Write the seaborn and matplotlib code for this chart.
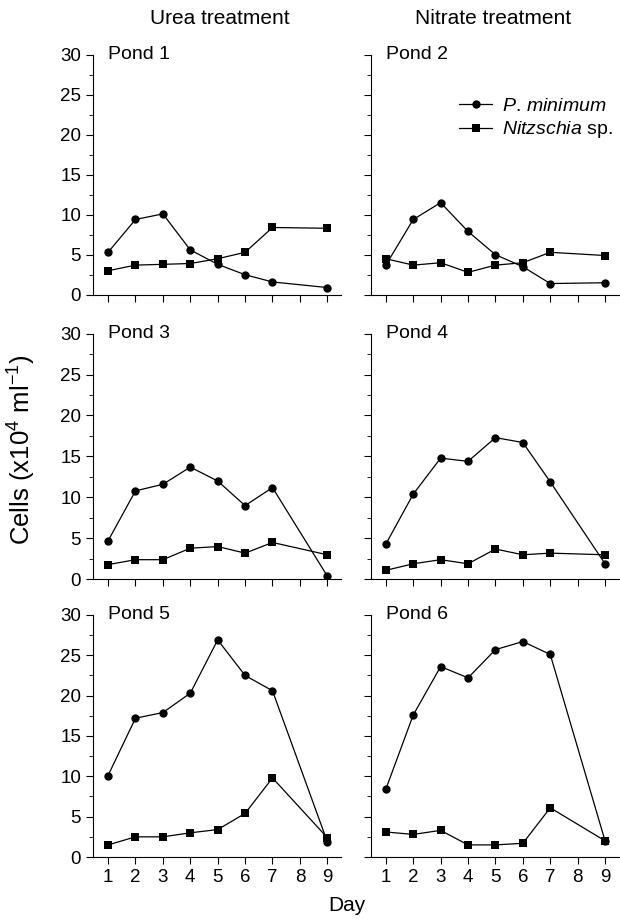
import matplotlib

matplotlib.use("Agg")
import matplotlib.pyplot as plt
import pandas as pd
import seaborn as sns
from matplotlib.ticker import MultipleLocator

days = [1, 2, 3, 4, 5, 6, 7, 9]
species = ["P. minimum", "Nitzschia sp."]

# cells (x10^4 per ml)
pond1_pmin = [5.3, 9.4, 10.1, 5.6, 3.8, 2.5, 1.6, 0.9]
pond1_nitz = [3.0, 3.7, 3.8, 3.9, 4.5, 5.3, 8.4, 8.3]
pond2_pmin = [3.7, 9.4, 11.5, 7.9, 5.0, 3.5, 1.4, 1.5]
pond2_nitz = [4.5, 3.7, 4.0, 2.8, 3.7, 4.0, 5.3, 4.9]
pond3_pmin = [4.7, 10.8, 11.6, 13.7, 12.0, 9.0, 11.2, 0.4]
pond3_nitz = [1.8, 2.4, 2.4, 3.8, 4.0, 3.2, 4.5, 3.0]
pond4_pmin = [4.3, 10.4, 14.8, 14.4, 17.3, 16.7, 11.9, 1.9]
pond4_nitz = [1.1, 1.9, 2.4, 1.9, 3.7, 3.0, 3.2, 3.0]
pond5_pmin = [10.1, 17.2, 17.9, 20.3, 26.9, 22.5, 20.6, 1.9]
pond5_nitz = [1.5, 2.5, 2.5, 3.0, 3.4, 5.4, 9.8, 2.4]
pond6_pmin = [8.4, 17.6, 23.6, 22.2, 25.7, 26.7, 25.1, 2.0]
pond6_nitz = [3.1, 2.8, 3.3, 1.5, 1.5, 1.7, 6.1, 2.0]

ponds = {
    "Pond 1": (pond1_pmin, pond1_nitz),
    "Pond 2": (pond2_pmin, pond2_nitz),
    "Pond 3": (pond3_pmin, pond3_nitz),
    "Pond 4": (pond4_pmin, pond4_nitz),
    "Pond 5": (pond5_pmin, pond5_nitz),
    "Pond 6": (pond6_pmin, pond6_nitz),
}

rows = []
for pond, (pmin, nitz) in ponds.items():
    for sp, vals in zip(species, (pmin, nitz)):
        for d, v in zip(days, vals):
            rows.append({"pond": pond, "species": sp, "day": d, "cells": v})
df = pd.DataFrame(rows)

sns.set_theme(style="ticks")
plt.rcParams["font.family"] = ["Liberation Sans", "DejaVu Sans"]
plt.rcParams["mathtext.fontset"] = "custom"
plt.rcParams["mathtext.rm"] = "Liberation Sans"
plt.rcParams["mathtext.it"] = "Liberation Sans:italic"
for key in ("text.color", "axes.labelcolor", "xtick.color", "ytick.color", "axes.edgecolor"):
    plt.rcParams[key] = "black"

fig = plt.figure(figsize=(6.2, 9.24), dpi=100)
lefts = [0.150, 0.598]
bottoms = [0.681, 0.373, 0.0725]
heights = [0.260, 0.266, 0.262]
width = 0.400

for i, pond in enumerate(ponds):
    r, c = divmod(i, 2)
    ax = fig.add_axes([lefts[c], bottoms[r], width, heights[r]])
    sub = df[df["pond"] == pond]
    sns.lineplot(data=sub, x="day", y="cells", style="species", style_order=species,
                 markers=["o", "s"], dashes=False, color="black", linewidth=0.9,
                 markersize=6, markeredgewidth=0, legend=(i == 1), ax=ax)
    ax.set_xlim(0.45, 9.5)
    ax.set_ylim(0, 30)
    ax.set_xticks(range(1, 10))
    ax.yaxis.set_major_locator(MultipleLocator(5))
    ax.yaxis.set_minor_locator(MultipleLocator(2.5))
    ax.tick_params(axis="both", which="major", direction="out", length=5, width=0.8,
                   labelsize=13.5)
    ax.tick_params(axis="y", which="minor", direction="out", length=3, width=0.6)
    for side in ("top", "right"):
        ax.spines[side].set_visible(False)
    for side in ("left", "bottom"):
        ax.spines[side].set_linewidth(0.8)
    ax.set_xlabel("")
    ax.set_ylabel("")
    if c == 1:
        ax.tick_params(axis="y", labelleft=False)
    if r < 2:
        ax.tick_params(axis="x", labelbottom=False)
    ax.text(0.06, 1.0, pond, transform=ax.transAxes, fontsize=14, ha="left", va="center")
    if i == 1:
        handles, _ = ax.get_legend_handles_labels()
        ax.legend(handles[-2:], ["$\\it{P.\\,minimum}$", "$\\it{Nitzschia}$ sp."],
                  loc="upper right", bbox_to_anchor=(1.03, 0.88), frameon=False,
                  fontsize=14, handlelength=1.7, handletextpad=0.5, labelspacing=0.25,
                  borderpad=0.2)

fig.text(0.355, 0.980, "Urea treatment", fontsize=15, ha="center", va="center")
fig.text(0.795, 0.980, "Nitrate treatment", fontsize=15, ha="center", va="center")
fig.text(0.56, 0.020, "Day", fontsize=15, ha="center", va="center")
fig.text(0.036, 0.513, "Cells (x10$^4$ ml$^{-1}$)", fontsize=18.5, ha="center", va="center",
         rotation=90)

fig.savefig("out.png", dpi=100)
